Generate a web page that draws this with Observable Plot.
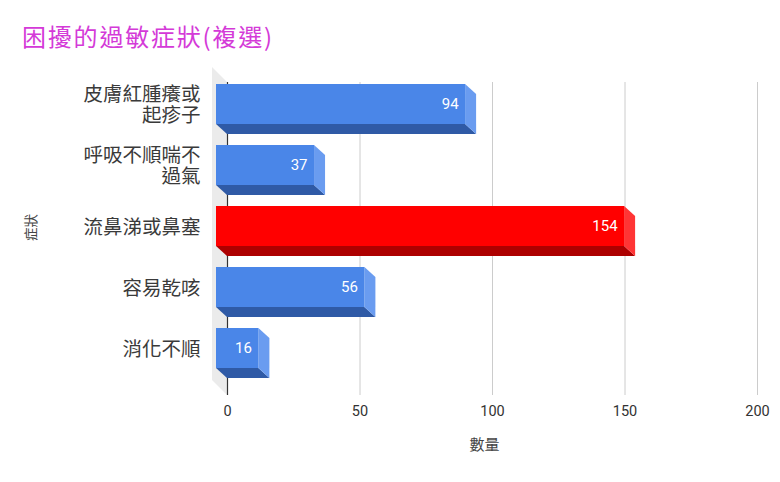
<!DOCTYPE html>
<html>
<head>
<meta charset="utf-8">
<script src="https://cdn.jsdelivr.net/npm/d3@7"></script>
<script src="https://cdn.jsdelivr.net/npm/@observablehq/plot@0.6"></script>
<style>
  body { margin: 0; background: #fff; }
  #title { height: 60px; box-sizing: border-box; padding: 22px 0 0 22px; font-size: 24px; line-height: 28px;
           letter-spacing: 1.8px; color: #d43ad8; font-family: "Noto Sans CJK TC", "Noto Sans", sans-serif; }
  #chart svg { display: block; }
</style>
</head>
<body>
<div id="title">困擾的過敏症狀(複選)</div>
<div id="chart"></div>
<script>
const categories = ["皮膚紅腫癢或起疹子", "呼吸不順喘不過氣", "流鼻涕或鼻塞", "容易乾咳", "消化不順"];
const tickLabels = ["皮膚紅腫癢或\n起疹子", "呼吸不順喘不\n過氣", "流鼻涕或鼻塞", "容易乾咳", "消化不順"];
const values = [94, 37, 154, 56, 16];
const highlighted = ["流鼻涕或鼻塞"];
const xTicks = [0, 50, 100, 150, 200];

const blue = {front: "#4a86e8", bottom: "#2f5aa6", side: "#6a9cf0"};
const red = {front: "#ff0000", bottom: "#ad0000", side: "#ff3535"};

const rows = categories.map((cat, i) => {
  const pal = highlighted.includes(cat) ? red : blue;
  return {cat, label: tickLabels[i], value: values[i], front: pal.front, bottom: pal.bottom, side: pal.side};
});

const DX = 11, DY = 10;     // bar depth (px)
const WX = 15, WY = 15;     // wall depth (px)
const cjk = "'Noto Sans CJK TC', 'Noto Sans', sans-serif";
const num = "Roboto, Arial, sans-serif";

// back wall
function wall(index, scales, values, dim) {
  const x0 = scales.x(0), t = dim.marginTop, b = dim.height - dim.marginBottom;
  const g = d3.create("svg:g");
  g.append("path")
    .attr("d", `M${x0 - WX},${t - WY}L${x0},${t}L${x0},${b}L${x0 - WX},${b - WY}Z`)
    .attr("fill", "#ebebeb");
  return g.node();
}

// bottom and side faces of the 3D bars
function barSides(index, scales) {
  const {x, y} = scales;
  const bw = y.bandwidth();
  const g = d3.create("svg:g");
  for (const d of rows) {
    const x0 = x(0), x1 = x(d.value), y0 = y(d.cat), y1 = y0 + bw;
    g.append("path")
      .attr("d", `M${x0 - DX},${y1 - DY}L${x1 - DX},${y1 - DY}L${x1},${y1}L${x0},${y1}Z`)
      .attr("fill", d.bottom);
    g.append("path")
      .attr("d", `M${x1 - DX},${y0 - DY}L${x1},${y0}L${x1},${y1}L${x1 - DX},${y1 - DY}Z`)
      .attr("fill", d.side);
  }
  return g.node();
}

const chart = Plot.plot({
  width: 780,
  height: 422,
  marginTop: 22,
  marginBottom: 87,
  marginLeft: 227,
  marginRight: 23,
  style: {fontFamily: num, background: "#fff"},
  x: {domain: [0, 200]},
  y: {domain: categories, paddingInner: 0.352, paddingOuter: 0.21, align: 0.42, axis: null},
  marks: [
    wall,
    Plot.gridX(xTicks.filter(t => t !== 0), {stroke: "#cccccc", strokeOpacity: 1}),
    Plot.ruleX([0], {stroke: "#333", strokeWidth: 1.2}),
    Plot.axisX({ticks: xTicks, tickSize: 0, tickPadding: 10, fontSize: 14.5, fill: "#333", label: null, fontFamily: num}),
    barSides,
    Plot.barX(rows, {x: "value", y: "cat", fill: "front", dx: -DX, dy: -DY}),
    Plot.text(rows, {x: "value", y: "cat", text: d => String(d.value), textAnchor: "end",
      dx: -DX - 7, dy: -DY, fill: "white", fontSize: 15, fontFamily: num}),
    Plot.text(rows, {y: "cat", text: "label", frameAnchor: "left", textAnchor: "end", dx: -27, dy: -DY,
      lineHeight: 1.12, fontSize: 19.5, fill: "#3a3a3a", fontFamily: cjk}),
    Plot.text(["症狀"], {frameAnchor: "left", rotate: -90, dx: -196, dy: 2, fontSize: 13.5, fill: "#444", fontFamily: cjk}),
    Plot.text(["數量"], {frameAnchor: "bottom", dx: -8, dy: 54, fontSize: 15, fill: "#444", fontFamily: cjk})
  ]
});
document.getElementById("chart").append(chart);
</script>
</body>
</html>
